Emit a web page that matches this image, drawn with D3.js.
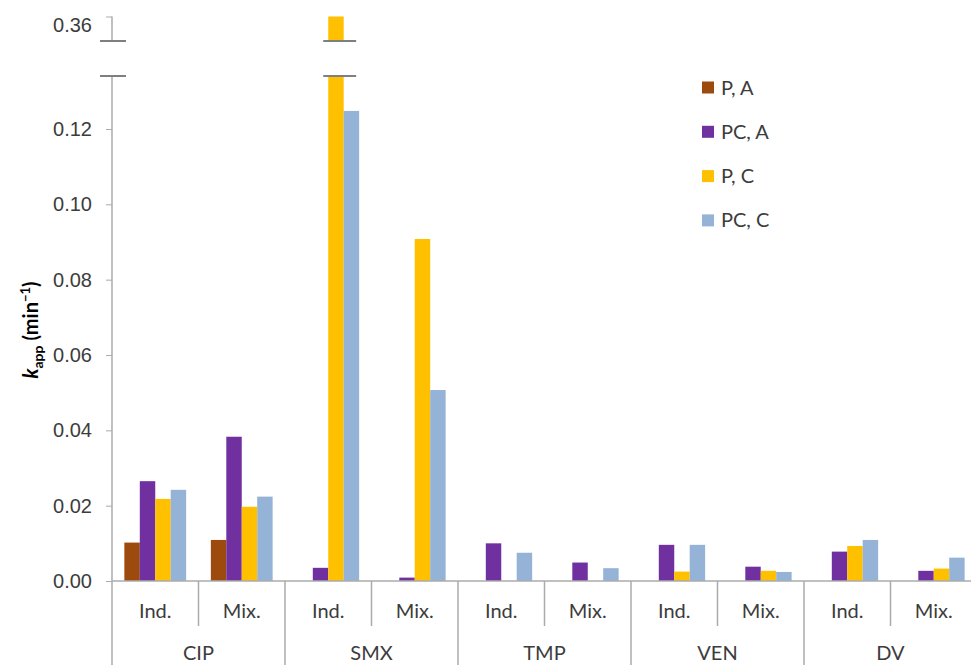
<!DOCTYPE html>
<html><head><meta charset="utf-8">
<script src="https://cdn.jsdelivr.net/npm/d3@7"></script>
<style>
body{margin:0;background:#fff;}
svg{display:block;font-family:Lato,"Open Sans",sans-serif;}
</style></head>
<body>
<svg id="c" width="971" height="665"></svg>
<script>
const groups = ["CIP","SMX","TMP","VEN","DV"];
const conditions = ["Ind.","Mix."];
const series = ["P, A","PC, A","P, C","PC, C"];
const colors = ["#9C4A0E","#7030A0","#FFC000","#95B3D7"];
// values per subcategory (group × condition), order: P,A | PC,A | P,C | PC,C
const valPA  = [0.0102,0.0109, 0,0, 0,0, 0,0, 0,0];
const valPCA = [0.0265,0.0383, 0.0035,0.0009, 0.0100,0.0049, 0.0096,0.0038, 0.0078,0.0027];
const valPC  = [0.0218,0.0197, 0.360,0.0908, 0,0, 0.0025,0.0027, 0.0093,0.0033];
const valPCC = [0.0242,0.0224, 0.1248,0.0507, 0.0075,0.0034, 0.0096,0.0024, 0.0109,0.0062];
const lowTicks = [0,0.02,0.04,0.06,0.08,0.10,0.12];
const highTicks = [0.36];
const allVals = [valPA,valPCA,valPC,valPCC];

const svg = d3.select("#c");
const axisX = 112, base = 581;
const yLow = d3.scaleLinear().domain([0,0.12]).range([base,129]);
const breakLow = yLow.invert(76);   // top of lower segment
const yHigh = d3.scaleLinear().domain([0.3535,0.36]).range([41,16.5]);
const breakHigh = yHigh.domain()[0];

const subKeys = [];
groups.forEach(g=>conditions.forEach(c=>subKeys.push(g+"|"+c)));
const x0 = d3.scaleBand().domain(subKeys).range([axisX, axisX+865]).padding(0);
const x1 = d3.scaleBand().domain(series).range([0,x0.bandwidth()]).paddingInner(0).paddingOuter(0.8);

const gray = "#ABABAB", txt = "#3C3C3C";

// bars
const data = [];
subKeys.forEach((k,i)=>series.forEach((s,j)=>data.push({k,s,j,v:allVals[j][i]})));
const bars = svg.append("g");
data.filter(d=>d.v>0).forEach(d=>{
  const x = x0(d.k)+x1(d.s);
  const vLow = Math.min(d.v,breakLow);
  bars.append("rect").attr("x",x).attr("width",x1.bandwidth())
    .attr("y",yLow(vLow)).attr("height",base-yLow(vLow)).attr("fill",colors[d.j]);
  if(d.v>breakLow){
    bars.append("rect").attr("x",x).attr("width",x1.bandwidth())
      .attr("y",yHigh(d.v)).attr("height",yHigh(breakHigh)-yHigh(d.v)).attr("fill",colors[d.j]);
    [41,76].forEach(yy=>svg.append("line").attr("x1",x-5).attr("x2",x+2*x1.bandwidth()-3)
      .attr("y1",yy).attr("y2",yy).attr("stroke","#7F7F7F").attr("stroke-width",2));
  }
});

// y axis lower
const gy = svg.append("g").attr("transform",`translate(${axisX},0)`)
  .call(d3.axisLeft(yLow).tickValues(lowTicks).tickFormat(d3.format(".2f")).tickSize(6).tickPadding(14));
gy.select(".domain").remove();
gy.selectAll(".tick line").attr("stroke",gray);
gy.selectAll("text").attr("font-size",20).attr("fill",txt);
svg.append("line").attr("x1",axisX).attr("x2",axisX).attr("y1",76).attr("y2",665).attr("stroke",gray).attr("stroke-width",1.5);
// y axis upper
const gy2 = svg.append("g").attr("transform",`translate(${axisX},0)`)
  .call(d3.axisLeft(yHigh).tickValues(highTicks).tickFormat(d3.format(".2f")).tickSize(6).tickPadding(14));
gy2.select(".domain").remove();
gy2.selectAll(".tick line").attr("stroke",gray);
gy2.selectAll("text").attr("font-size",20).attr("fill",txt).attr("dy","15px");
svg.append("line").attr("x1",axisX).attr("x2",axisX).attr("y1",yHigh(0.36)).attr("y2",41).attr("stroke",gray).attr("stroke-width",1.5);
// axis break marks
[41,76].forEach(yy=>svg.append("line").attr("x1",100).attr("x2",126).attr("y1",yy).attr("y2",yy).attr("stroke","#7F7F7F").attr("stroke-width",2));

// x axis baseline
svg.append("line").attr("x1",axisX).attr("x2",971).attr("y1",base).attr("y2",base).attr("stroke",gray).attr("stroke-width",1.5);
// sub separators & labels
subKeys.forEach((k,i)=>{
  const xs = x0(k);
  const isGroupStart = i%2===0;
  if(i>0) svg.append("line").attr("x1",xs).attr("x2",xs).attr("y1",base).attr("y2",isGroupStart?665:626).attr("stroke",gray).attr("stroke-width",1.5);
  svg.append("text").attr("x",xs+x0.bandwidth()/2).attr("y",618).attr("text-anchor","middle")
    .attr("font-size",20).attr("fill",txt).text(k.split("|")[1]);
});
groups.forEach((g,i)=>{
  const xc = x0(g+"|Ind.")+x0.bandwidth();
  svg.append("text").attr("x",xc).attr("y",660).attr("text-anchor","middle")
    .attr("font-size",20).attr("fill",txt).text(g);
});

// y label
const yl = svg.append("text").attr("transform","translate(38,330) rotate(-90)")
  .attr("text-anchor","middle").attr("font-size",20).attr("font-weight","bold").attr("fill","#000");
yl.append("tspan").attr("font-style","italic").text("k");
yl.append("tspan").attr("font-size",14).attr("dy",5).text("app");
yl.append("tspan").attr("dy",-5).text(" (min");
yl.append("tspan").attr("font-size",13).attr("dy",-8).text("−1");
yl.append("tspan").attr("dy",8).text(")");

// legend
const lg = svg.append("g");
series.forEach((s,j)=>{
  const yy = 87.5 + j*44.3;
  lg.append("rect").attr("x",702).attr("y",yy-6).attr("width",12).attr("height",12).attr("fill",colors[j]);
  lg.append("text").attr("x",721).attr("y",yy+7).attr("font-size",20).attr("fill",txt).text(s);
});
</script>
</body></html>
